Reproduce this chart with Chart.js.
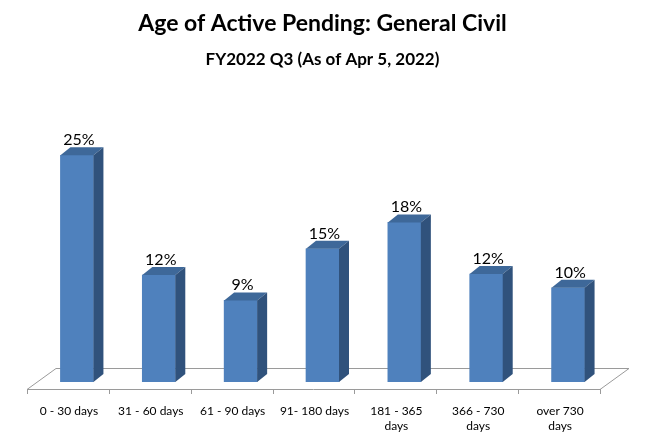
<!DOCTYPE html>
<html>
<head>
<meta charset="utf-8">
<script src="https://cdn.jsdelivr.net/npm/chart.js@4"></script>
<style>
    html, body { margin: 0; padding: 0; background: #ffffff; }
    #wrap { width: 662px; height: 439px; }
</style>
</head>
<body>
<div id="wrap"><canvas id="age-chart" width="662" height="439"></canvas></div>
<script>
// Chart data
const categories = [['0 - 30 days'], ['31 - 60 days'], ['61 - 90 days'], ['91- 180 days'], ['181 - 365', 'days'], ['366 - 730', 'days'], ['over 730', 'days']];
const pendingPct = [25.0, 11.8, 9.0, 14.7, 17.6, 11.9, 10.4];
const titleText = 'Age of Active Pending: General Civil';
const subtitleText = 'FY2022 Q3 (As of Apr 5, 2022)';

// 3D look (pixels)
const DEPTH_X = 10;
const DEPTH_Y = 8;
const FONT = "Lato, 'Open Sans', sans-serif";

// Draws the floor, the bar tops/sides and the value labels
const bars3d = {
    id: 'bars3d',
    beforeDatasetsDraw(chart) {
        const { ctx, chartArea } = chart;
        const base = chart.scales.y.getPixelForValue(0);
        const frontY = base + 7;
        const backY = base - 14;
        const fl = chartArea.left - 9;
        const fr = chartArea.right - 9;
        const shift = 29;
        ctx.save();
        ctx.strokeStyle = '#9a9a9a';
        ctx.lineWidth = 1;
        ctx.beginPath();
        ctx.moveTo(fl, frontY + 0.5);
        ctx.lineTo(fr, frontY + 0.5);
        ctx.lineTo(fr + shift, backY + 0.5);
        ctx.lineTo(fl + shift, backY + 0.5);
        ctx.closePath();
        ctx.stroke();
        // tick marks on the front edge
        const step = (chartArea.right - chartArea.left) / categories.length;
        ctx.beginPath();
        for (let i = 0; i <= categories.length; i++) {
            const x = Math.round(fl + i * step) + 0.5;
            ctx.moveTo(x, frontY);
            ctx.lineTo(x, frontY + 5);
        }
        ctx.stroke();
        ctx.restore();
    },
    afterDatasetsDraw(chart) {
        const { ctx } = chart;
        const meta = chart.getDatasetMeta(0);
        ctx.save();
        meta.data.forEach((bar, i) => {
            const l = bar.x - bar.width / 2;
            const r = bar.x + bar.width / 2;
            const top = bar.y;
            const bottom = bar.base;
            // top face
            ctx.fillStyle = '#3e6899';
            ctx.beginPath();
            ctx.moveTo(l, top);
            ctx.lineTo(l + DEPTH_X, top - DEPTH_Y);
            ctx.lineTo(r + DEPTH_X, top - DEPTH_Y);
            ctx.lineTo(r, top);
            ctx.closePath();
            ctx.fill();
            // side face
            ctx.fillStyle = '#30527c';
            ctx.beginPath();
            ctx.moveTo(r, top);
            ctx.lineTo(r + DEPTH_X, top - DEPTH_Y);
            ctx.lineTo(r + DEPTH_X, bottom - DEPTH_Y);
            ctx.lineTo(r, bottom);
            ctx.closePath();
            ctx.fill();
            // value label
            ctx.fillStyle = '#000000';
            ctx.font = '16px ' + FONT;
            ctx.textAlign = 'center';
            ctx.textBaseline = 'alphabetic';
            ctx.fillText(Math.round(pendingPct[i]) + '%', bar.x + 2, top - 10);
        });
        ctx.restore();
    }
};

const ctx = document.getElementById('age-chart');
new Chart(ctx, {
    type: 'bar',
    data: {
        labels: categories,
        datasets: [{
            data: pendingPct,
            backgroundColor: '#4f81bd',
            borderWidth: 0,
            barThickness: 33
        }]
    },
    options: {
        responsive: false,
        animation: false,
        layout: {
            padding: { left: 36, right: 53, top: 0, bottom: 0 }
        },
        plugins: {
            legend: { display: false },
            tooltip: { enabled: false },
            title: {
                display: true,
                text: titleText,
                color: '#000000',
                font: { family: FONT, size: 23, weight: 'bold' },
                padding: { top: 10, bottom: 12 }
            },
            subtitle: {
                display: true,
                text: subtitleText,
                color: '#000000',
                font: { family: FONT, size: 17, weight: 'bold' },
                padding: { top: 0, bottom: 40 }
            }
        },
        scales: {
            x: {
                grid: { display: false },
                border: { display: false },
                afterFit(scale) { scale.height = 57; },
                ticks: {
                    color: '#000000',
                    font: { family: FONT, size: 12, lineHeight: 1.3 },
                    labelOffset: -8,
                    padding: 13,
                    maxRotation: 0,
                    autoSkip: false
                }
            },
            y: {
                display: false,
                min: 0,
                max: 30
            }
        }
    },
    plugins: [bars3d]
});
</script>
</body>
</html>
